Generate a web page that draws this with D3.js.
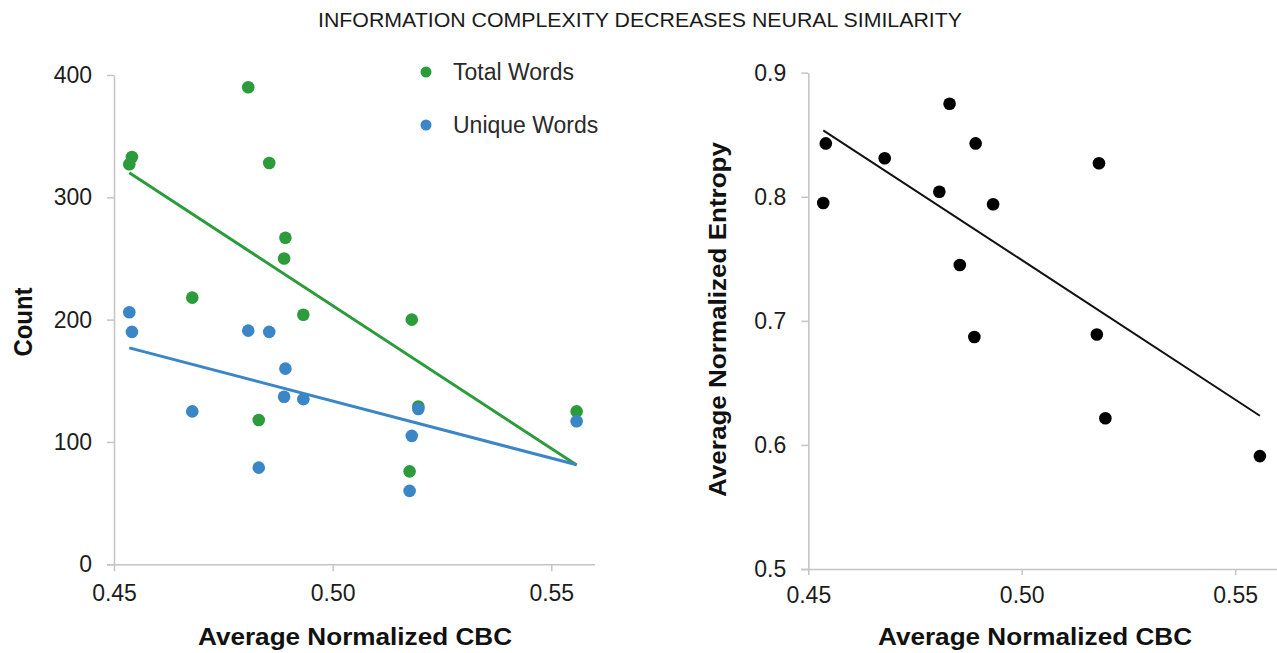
<!DOCTYPE html>
<html>
<head>
<meta charset="utf-8">
<script src="https://cdn.jsdelivr.net/npm/d3@7/dist/d3.min.js"></script>
<style>
  html, body { margin: 0; padding: 0; background: #fff; }
  svg { display: block; font-family: "Liberation Sans", Arial, Helvetica, sans-serif; }
</style>
</head>
<body>
<svg id="chart" width="1277" height="653"></svg>
<script>
// ---- Data ----
const cbc          = [0.4541, 0.4535, 0.4807, 0.4831, 0.4855, 0.4892, 0.4889, 0.4679, 0.4933, 0.5181, 0.5196, 0.5176, 0.5558];
const totalWords   = [333, 327, 390, 118, 328, 267, 250, 218, 204, 200, 129, 76, 125];
const uniqueWords  = [190, 206, 191, 79, 190, 160, 137, 125, 135, 105, 127, 60, 117];
const entropy      = [0.843, 0.795, 0.804, 0.875, 0.745, 0.843, 0.687, 0.831, 0.794, 0.827, 0.6215, 0.689, 0.591];

const xTicks       = [0.45, 0.50, 0.55];
const countTicks   = [0, 100, 200, 300, 400];
const entropyTicks = [0.5, 0.6, 0.7, 0.8, 0.9];

const seriesNames  = ["Total Words", "Unique Words"];
const titleText    = "INFORMATION COMPLEXITY DECREASES NEURAL SIMILARITY";

// ---- Styles ----
const GREEN = "#2b9b3b", BLUE = "#3a86c7", AXIS = "#c4c4c4", TXT = "#1c1c1c";

const svg = d3.select("#chart");

function linreg(xs, ys) {
  const n = xs.length;
  const mx = d3.mean(xs), my = d3.mean(ys);
  let sxy = 0, sxx = 0;
  for (let i = 0; i < n; i++) { sxy += (xs[i]-mx)*(ys[i]-my); sxx += (xs[i]-mx)*(xs[i]-mx); }
  const b = sxy / sxx, a = my - b*mx;
  return x => a + b*x;
}

function styleAxis(g) {
  g.attr("font-size", null).attr("font-family", null);
  g.select(".domain").attr("stroke", AXIS).attr("stroke-width", 1.5);
  g.selectAll(".tick line").attr("stroke", AXIS).attr("stroke-width", 1.5);
  g.selectAll(".tick text").attr("fill", TXT).style("font-size", "23px")
    .style("font-family", '"Liberation Sans", Arial, sans-serif');
}

// Title
svg.append("text").attr("x", 640).attr("y", 27).attr("text-anchor", "middle")
  .attr("fill", "#1a1a1a").style("font-size", "20px")
  .attr("textLength", 644).attr("lengthAdjust", "spacingAndGlyphs")
  .text(titleText);

// ================= Left panel =================
const xL = d3.scaleLinear().domain([0.45, 0.56]).range([114, 595]);
const yL = d3.scaleLinear().domain([0, 400]).range([564.3, 75]);

const gxL = svg.append("g").attr("transform", `translate(0,${yL(0)})`)
  .call(d3.axisBottom(xL).tickValues(xTicks).tickFormat(d3.format(".2f")).tickSize(7).tickSizeOuter(0).tickPadding(13));
styleAxis(gxL);
gxL.select(".domain").attr("d", `M107,0.5H${xL(0.56)}`);

const gyL = svg.append("g").attr("transform", `translate(${xL(0.45)},0)`)
  .call(d3.axisLeft(yL).tickValues(countTicks).tickFormat(d3.format("d")).tickSize(7).tickSizeOuter(0).tickPadding(15));
styleAxis(gyL);

// regression lines
const xExt = d3.extent(cbc);
[[totalWords, GREEN], [uniqueWords, BLUE]].forEach(([ys, col]) => {
  const f = linreg(cbc, ys);
  svg.append("line")
    .attr("x1", xL(xExt[0])).attr("y1", yL(f(xExt[0])))
    .attr("x2", xL(xExt[1])).attr("y2", yL(f(xExt[1])))
    .attr("stroke", col).attr("stroke-width", 3);
});

// points
svg.append("g").selectAll("circle").data(cbc.map((x, i) => [x, totalWords[i]])).join("circle")
  .attr("cx", d => xL(d[0])).attr("cy", d => yL(d[1])).attr("r", 6.3).attr("fill", GREEN);
svg.append("g").selectAll("circle").data(cbc.map((x, i) => [x, uniqueWords[i]])).join("circle")
  .attr("cx", d => xL(d[0])).attr("cy", d => yL(d[1])).attr("r", 6.3).attr("fill", BLUE);

// legend
const legend = svg.append("g");
[[seriesNames[0], GREEN, 72], [seriesNames[1], BLUE, 125]].forEach(([name, col, cy]) => {
  legend.append("circle").attr("cx", 426).attr("cy", cy).attr("r", 5.5).attr("fill", col);
  legend.append("text").attr("x", 453).attr("y", cy + 8).attr("fill", "#2a2a2a")
    .style("font-size", "23px").text(name);
});

// axis titles
svg.append("text").attr("x", 355).attr("y", 645).attr("text-anchor", "middle")
  .attr("fill", "#111").style("font-size", "24px").style("font-weight", "bold")
  .attr("textLength", 314).attr("lengthAdjust", "spacingAndGlyphs")
  .text("Average Normalized CBC");
svg.append("text").attr("transform", "translate(32,322) rotate(-90)").attr("text-anchor", "middle")
  .attr("fill", "#111").style("font-size", "25px").style("font-weight", "bold")
  .attr("textLength", 69).attr("lengthAdjust", "spacingAndGlyphs")
  .text("Count");

// ================= Right panel =================
const xR = d3.scaleLinear().domain([0.45, 0.56]).range([808.3, 1277.8]);
const yR = d3.scaleLinear().domain([0.5, 0.9]).range([569, 72.7]);

const gxR = svg.append("g").attr("transform", `translate(0,${yR(0.5)})`)
  .call(d3.axisBottom(xR).tickValues(xTicks).tickFormat(d3.format(".2f")).tickSize(6).tickSizeOuter(0).tickPadding(12));
styleAxis(gxR);
gxR.select(".domain").attr("d", `M801,0.5H${xR(0.56)}`);

const gyR = svg.append("g").attr("transform", `translate(${xR(0.45)},0)`)
  .call(d3.axisLeft(yR).tickValues(entropyTicks).tickFormat(d3.format(".1f")).tickSize(7).tickSizeOuter(0).tickPadding(15));
styleAxis(gyR);

const fE = linreg(cbc, entropy);
svg.append("line")
  .attr("x1", xR(xExt[0])).attr("y1", yR(fE(xExt[0])))
  .attr("x2", xR(xExt[1])).attr("y2", yR(fE(xExt[1])))
  .attr("stroke", "#111").attr("stroke-width", 2);

svg.append("g").selectAll("circle").data(cbc.map((x, i) => [x, entropy[i]])).join("circle")
  .attr("cx", d => xR(d[0])).attr("cy", d => yR(d[1])).attr("r", 6.3).attr("fill", "#000");

svg.append("text").attr("x", 1035).attr("y", 645).attr("text-anchor", "middle")
  .attr("fill", "#111").style("font-size", "24px").style("font-weight", "bold")
  .attr("textLength", 314).attr("lengthAdjust", "spacingAndGlyphs")
  .text("Average Normalized CBC");
svg.append("text").attr("transform", "translate(726,319.5) rotate(-90)").attr("text-anchor", "middle")
  .attr("fill", "#111").style("font-size", "24px").style("font-weight", "bold")
  .attr("textLength", 355).attr("lengthAdjust", "spacingAndGlyphs")
  .text("Average Normalized Entropy");
</script>
</body>
</html>
